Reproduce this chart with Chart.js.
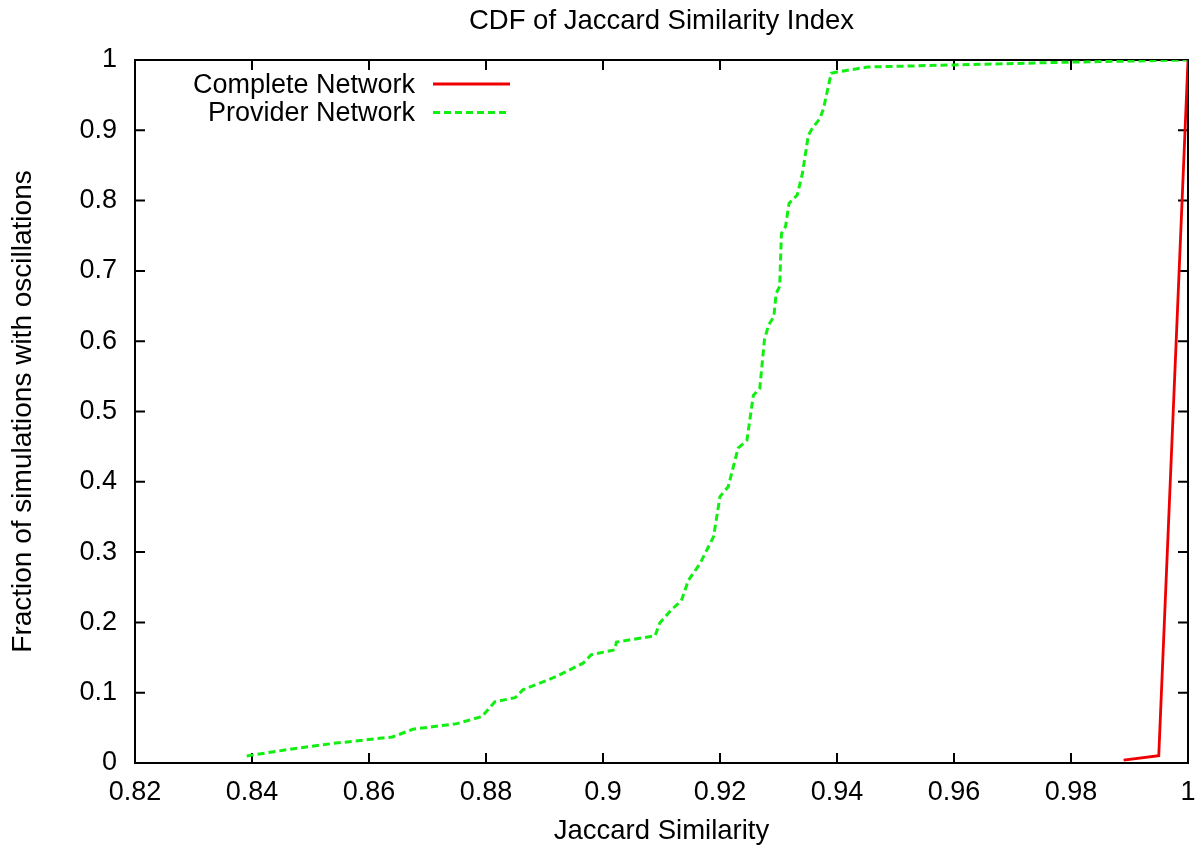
<!DOCTYPE html>
<html>
<head>
<title>CDF of Jaccard Similarity Index</title>
<script src="https://cdn.jsdelivr.net/npm/chart.js@4.4.0/dist/chart.umd.min.js"></script>
<style>
    html, body { margin: 0; padding: 0; background: #ffffff; }
    canvas { display: block; }
</style>
</head>
<body>
<canvas id="cdf_chart" width="1200" height="851"></canvas>
<script>
    // values
    const providerX = [0.8391, 0.846, 0.854, 0.864, 0.8675, 0.875, 0.8793, 0.8815, 0.885, 0.8863,
        0.892, 0.8966, 0.898, 0.902, 0.9023, 0.9089, 0.9097, 0.9117, 0.9134, 0.9146,
        0.9166, 0.9189, 0.92, 0.9214, 0.9231, 0.9246, 0.9257, 0.9268, 0.9276, 0.9283,
        0.9292, 0.9296, 0.9302, 0.9305, 0.9312, 0.9318, 0.9332, 0.9341, 0.9351, 0.9358,
        0.9371, 0.9377, 0.939, 0.94, 0.9452, 0.96, 0.98, 1.0];
    const providerY = [0.010, 0.019, 0.028, 0.037, 0.048, 0.056, 0.066, 0.087, 0.093, 0.104,
        0.123, 0.142, 0.154, 0.161, 0.172, 0.181, 0.199, 0.218, 0.231, 0.26,
        0.284, 0.322, 0.379, 0.393, 0.448, 0.459, 0.523, 0.533, 0.602, 0.623,
        0.635, 0.668, 0.678, 0.753, 0.763, 0.796, 0.808, 0.839, 0.893, 0.903,
        0.917, 0.931, 0.981, 0.983, 0.990, 0.993, 0.997, 1.0];
    const completeX = [0.989, 0.995, 1.0];
    const completeY = [0.004, 0.0104, 1.0];

    const xTickValues = [0.82, 0.84, 0.86, 0.88, 0.9, 0.92, 0.94, 0.96, 0.98, 1];
    const xTickLabels = ['0.82', '0.84', '0.86', '0.88', '0.9', '0.92', '0.94', '0.96', '0.98', '1'];
    const yTickValues = [0, 0.1, 0.2, 0.3, 0.4, 0.5, 0.6, 0.7, 0.8, 0.9, 1];
    const yTickLabels = ['0', '0.1', '0.2', '0.3', '0.4', '0.5', '0.6', '0.7', '0.8', '0.9', '1'];

    const FONT = '"Liberation Sans", Arial, Helvetica, sans-serif';
    const RED = '#ee0000';
    const GREEN = '#11ee11';

    function toPoints(xs, ys) {
        return xs.map((x, i) => ({ x: x, y: ys[i] }));
    }

    // gnuplot look: full border, ticks pointing inwards on all four sides
    const frame = {
        id: 'frame',
        beforeDatasetsDraw(chart) {
            const ctx = chart.ctx;
            const a = chart.chartArea;
            const xs = chart.scales.x, ys = chart.scales.y;
            ctx.save();
            ctx.strokeStyle = '#000';
            ctx.lineWidth = 2;
            ctx.strokeRect(a.left, a.top, a.right - a.left, a.bottom - a.top);
            ctx.beginPath();
            for (const v of xTickValues) {
                const px = xs.getPixelForValue(v);
                ctx.moveTo(px, a.bottom); ctx.lineTo(px, a.bottom - 10);
                ctx.moveTo(px, a.top); ctx.lineTo(px, a.top + 10);
            }
            for (const v of yTickValues) {
                const py = ys.getPixelForValue(v);
                ctx.moveTo(a.left, py); ctx.lineTo(a.left + 10, py);
                ctx.moveTo(a.right, py); ctx.lineTo(a.right - 10, py);
            }
            ctx.stroke();
            ctx.restore();
        },
        afterDraw(chart) {
            const ctx = chart.ctx;
            const a = chart.chartArea;
            ctx.save();
            ctx.fillStyle = '#000';
            ctx.font = '27.5px ' + FONT;
            ctx.textBaseline = 'alphabetic';
            ctx.textAlign = 'center';
            ctx.fillText('CDF of Jaccard Similarity Index', (a.left + a.right) / 2, 29);

            // legend, text right aligned then the line sample
            ctx.font = '27px ' + FONT;
            ctx.textAlign = 'right';
            const rows = chart.data.datasets;
            rows.forEach((ds, i) => {
                const base = 93 + i * 28.4;
                ctx.fillText(ds.label, 415, base);
                ctx.beginPath();
                ctx.strokeStyle = ds.borderColor;
                ctx.lineWidth = ds.borderWidth;
                ctx.setLineDash(ds.borderDash || []);
                ctx.moveTo(433, base - 9);
                ctx.lineTo(510, base - 9);
                ctx.stroke();
            });
            ctx.restore();
        }
    };

    new Chart(document.getElementById('cdf_chart'), {
        type: 'line',
        data: {
            datasets: [
                {
                    label: 'Complete Network',
                    data: toPoints(completeX, completeY),
                    borderColor: RED,
                    borderWidth: 2.8,
                    pointRadius: 0,
                    tension: 0
                },
                {
                    label: 'Provider Network',
                    data: toPoints(providerX, providerY),
                    borderColor: GREEN,
                    borderWidth: 3,
                    borderDash: [7, 4],
                    pointRadius: 0,
                    tension: 0
                }
            ]
        },
        options: {
            responsive: false,
            animation: false,
            layout: { padding: { top: 60, right: 0, left: 0, bottom: 0 } },
            plugins: {
                legend: { display: false },
                tooltip: { enabled: false }
            },
            scales: {
                x: {
                    type: 'linear',
                    min: 0.82,
                    max: 1,
                    grid: { display: false, drawTicks: false },
                    border: { display: false },
                    afterBuildTicks: s => { s.ticks = xTickValues.map(v => ({ value: v })); },
                    afterFit: s => { s.height = 88; s.paddingRight = 12; },
                    ticks: {
                        color: '#000',
                        padding: 13,
                        maxRotation: 0,
                        autoSkip: false,
                        font: { family: FONT, size: 27 },
                        callback: (v, i) => xTickLabels[i]
                    },
                    title: {
                        display: true,
                        text: 'Jaccard Similarity',
                        color: '#000',
                        padding: { top: 0, bottom: 3 },
                        font: { family: FONT, size: 27.5 }
                    }
                },
                y: {
                    type: 'linear',
                    min: 0,
                    max: 1,
                    grid: { display: false, drawTicks: false },
                    border: { display: false },
                    afterBuildTicks: s => { s.ticks = yTickValues.map(v => ({ value: v })); },
                    afterFit: s => { s.width = 135; },
                    ticks: {
                        color: '#000',
                        padding: 18,
                        autoSkip: false,
                        font: { family: FONT, size: 27 },
                        callback: (v, i) => yTickLabels[i]
                    },
                    title: {
                        display: true,
                        text: 'Fraction of simulations with oscillations',
                        color: '#000',
                        padding: { top: 6, bottom: 0 },
                        font: { family: FONT, size: 28 }
                    }
                }
            }
        },
        plugins: [frame]
    });
</script>
</body>
</html>
